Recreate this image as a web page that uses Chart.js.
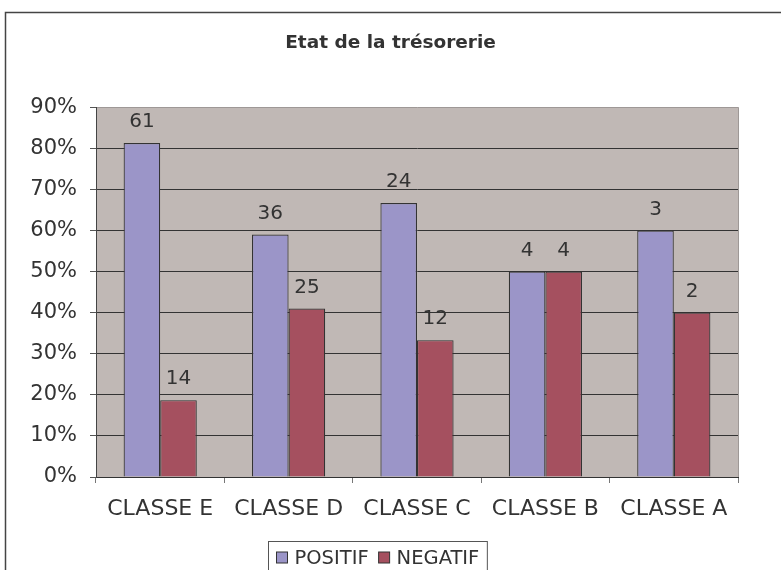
<!DOCTYPE html>
<html>
<head>
<meta charset="utf-8">
<script src="https://cdn.jsdelivr.net/npm/chart.js@4/dist/chart.umd.min.js"></script>
<style>
  body { margin: 0; background: #fff; }
  canvas { display: block; }
</style>
</head>
<body>
<canvas id="tresorerie" width="781" height="570"></canvas>
<script>
// Données
const classes = ['CLASSE E', 'CLASSE D', 'CLASSE C', 'CLASSE B', 'CLASSE A'];
const positifPct = [81.3, 59.0, 66.7, 50.0, 60.0];
const negatifPct = [18.7, 41.0, 33.3, 50.0, 40.0];
const positifNb = [61, 36, 24, 4, 3];
const negatifNb = [14, 25, 12, 4, 2];
const yTicks = [0, 10, 20, 30, 40, 50, 60, 70, 80, 90];

const txtColor = '#333333';
const fontFam = '"DejaVu Sans", Verdana, sans-serif';

// Fond gris de la zone de tracé + cadre extérieur
const fondPlugin = {
  id: 'fond',
  beforeDraw(chart) {
    const { ctx, chartArea: a } = chart;
    ctx.save();
    ctx.fillStyle = '#c0b8b5';
    ctx.fillRect(a.left, a.top, a.right - a.left, a.bottom - a.top);
    ctx.strokeStyle = '#9e9896';
    ctx.lineWidth = 1;
    ctx.beginPath();
    ctx.moveTo(a.right + 0.5, a.top);
    ctx.lineTo(a.right + 0.5, a.bottom);
    ctx.stroke();
    ctx.strokeStyle = '#444';
    ctx.lineWidth = 1.5;
    ctx.strokeRect(5.5, 12.5, 820, 620);
    ctx.restore();
  }
};

// Effectifs au-dessus des barres + légende encadrée
const etiquettesPlugin = {
  id: 'etiquettes',
  afterDatasetsDraw(chart) {
    const ctx = chart.ctx;
    const comptes = [positifNb, negatifNb];
    ctx.save();
    ctx.font = '20px ' + fontFam;
    ctx.fillStyle = txtColor;
    ctx.textAlign = 'center';
    ctx.textBaseline = 'bottom';
    chart.data.datasets.forEach((ds, i) => {
      chart.getDatasetMeta(i).data.forEach((bar, j) => {
        ctx.fillText(String(comptes[i][j]), bar.x, bar.y - 11);
      });
    });
    ctx.restore();
  },
  afterDraw(chart) {
    const ctx = chart.ctx;
    ctx.save();
    ctx.font = '19.5px ' + fontFam;
    const items = chart.data.datasets.map(ds => ({ label: ds.label, color: ds.backgroundColor }));
    const box = 11, gap = 7, sep = 10, padX = 8;
    let w = padX * 2;
    items.forEach((it, k) => {
      w += box + gap + ctx.measureText(it.label).width + (k < items.length - 1 ? sep : 0);
    });
    const left = Math.round(377 - w / 2) + 0.5;
    const top = 541.5;
    ctx.strokeStyle = '#555';
    ctx.lineWidth = 1;
    ctx.strokeRect(left, top, w, 40);
    let x = left + padX;
    const cy = 557.5;
    ctx.textBaseline = 'middle';
    items.forEach(it => {
      ctx.fillStyle = it.color;
      ctx.fillRect(x, cy - box / 2, box, box);
      ctx.strokeStyle = '#333';
      ctx.strokeRect(x, cy - box / 2, box, box);
      x += box + gap;
      ctx.fillStyle = txtColor;
      ctx.fillText(it.label, x, cy + 1);
      x += ctx.measureText(it.label).width + sep;
    });
    ctx.restore();
  }
};

new Chart(document.getElementById('tresorerie'), {
  type: 'bar',
  data: {
    labels: classes,
    datasets: [
      {
        label: 'POSITIF',
        data: positifPct,
        backgroundColor: '#9b95c8',
        borderColor: '#333',
        borderWidth: 1.2
      },
      {
        label: 'NEGATIF',
        data: negatifPct,
        backgroundColor: '#a5505f',
        borderColor: '#333',
        borderWidth: 1.2
      }
    ]
  },
  options: {
    responsive: false,
    animation: false,
    layout: { padding: 0 },
    datasets: {
      bar: { categoryPercentage: 0.57, barPercentage: 1.0 }
    },
    plugins: {
      legend: { display: false },
      tooltip: { enabled: false },
      title: {
        display: true,
        text: 'Etat de la trésorerie',
        color: txtColor,
        font: { family: fontFam, size: 18.5, weight: 'bold' },
        padding: { top: 32, bottom: 53 }
      }
    },
    scales: {
      x: {
        afterFit: (s) => { s.height = 93; },
        grid: {
          display: true,
          drawOnChartArea: false,
          drawTicks: true,
          tickLength: 6,
          color: '#777'
        },
        border: { display: true, color: '#333', width: 1 },
        ticks: {
          color: txtColor,
          padding: 13,
          font: { family: fontFam, size: 22 }
        }
      },
      y: {
        min: 0,
        max: 90,
        afterFit: (s) => { s.width = 96; },
        afterBuildTicks: (s) => { s.ticks = yTicks.map(v => ({ value: v })); },
        grid: {
          color: (c) => (c.tick && c.tick.value === 90 ? '#9e9896' : '#333'),
          tickColor: '#555',
          tickLength: 6
        },
        border: { display: true, color: '#444', width: 1 },
        ticks: {
          color: txtColor,
          padding: 13,
          font: { family: fontFam, size: 21 },
          callback: (v) => v + '%'
        }
      },
      // marge droite vide
      marge: {
        type: 'linear',
        position: 'right',
        afterFit: (s) => { s.width = 43; },
        grid: { display: false },
        border: { display: false },
        ticks: { display: false }
      }
    }
  },
  plugins: [fondPlugin, etiquettesPlugin]
});
</script>
</body>
</html>
